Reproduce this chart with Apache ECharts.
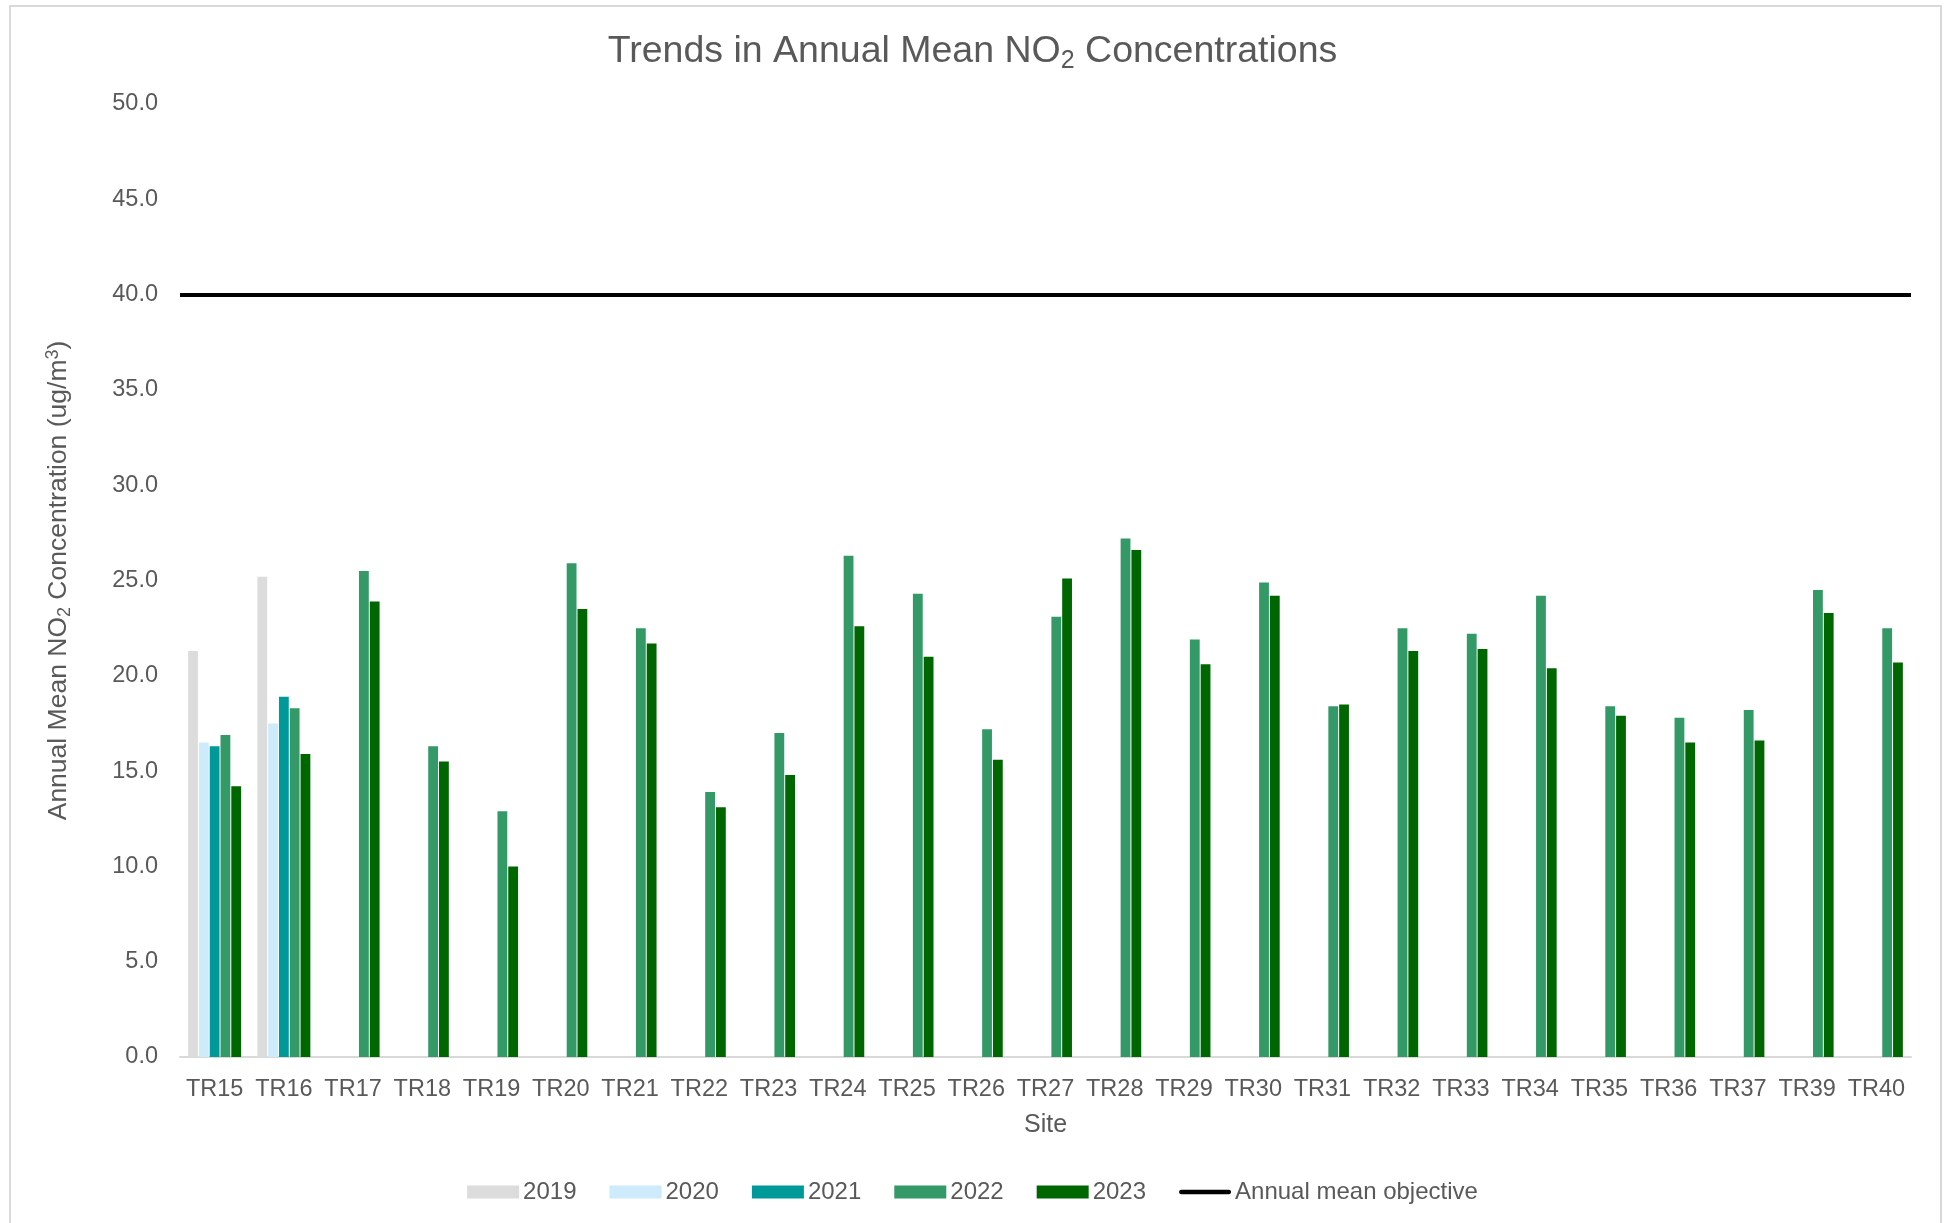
<!DOCTYPE html>
<html>
<head>
<meta charset="utf-8">
<script src="https://cdn.jsdelivr.net/npm/echarts@6/dist/echarts.min.js"></script>
<style>
  html, body { margin: 0; padding: 0; background: #ffffff; }
  #chart { width: 1945px; height: 1223px; }
</style>
</head>
<body>
<div id="chart"></div>
<script>
const sites = ['TR15','TR16','TR17','TR18','TR19','TR20','TR21','TR22','TR23','TR24','TR25','TR26','TR27','TR28','TR29','TR30','TR31','TR32','TR33','TR34','TR35','TR36','TR37','TR39','TR40'];
const y2019 = [21.3, 25.2, null, null, null, null, null, null, null, null, null, null, null, null, null, null, null, null, null, null, null, null, null, null, null];
const y2020 = [16.5, 17.5, null, null, null, null, null, null, null, null, null, null, null, null, null, null, null, null, null, null, null, null, null, null, null];
const y2021 = [16.3, 18.9, null, null, null, null, null, null, null, null, null, null, null, null, null, null, null, null, null, null, null, null, null, null, null];
const y2022 = [16.9, 18.3, 25.5, 16.3, 12.9, 25.9, 22.5, 13.9, 17.0, 26.3, 24.3, 17.2, 23.1, 27.2, 21.9, 24.9, 18.4, 22.5, 22.2, 24.2, 18.4, 17.8, 18.2, 24.5, 22.5];
const y2023 = [14.2, 15.9, 23.9, 15.5, 10.0, 23.5, 21.7, 13.1, 14.8, 22.6, 21.0, 15.6, 25.1, 26.6, 20.6, 24.2, 18.5, 21.3, 21.4, 20.4, 17.9, 16.5, 16.6, 23.3, 20.7];
const objective = 40;
const yTicks = { min: 0, max: 50, interval: 5 };

const FONT = '"Liberation Sans", Arial, sans-serif';
const TXT = '#595959';

const chart = echarts.init(document.getElementById('chart'), null, { renderer: 'canvas' });

function barSeries(name, data, color) {
  return {
    name: name,
    type: 'bar',
    data: data,
    barGap: '10%',
    barCategoryGap: '23.5%',
    itemStyle: { color: color },
    emphasis: { disabled: true }
  };
}

const lineIcon = 'path://M4.5,0 L95.5,0 A4.5,4.5 0 0 1 95.5,9 L4.5,9 A4.5,4.5 0 0 1 4.5,0 Z';

const option = {
  backgroundColor: '#ffffff',
  animation: false,
  textStyle: { fontFamily: FONT, color: TXT },
  graphic: [{
    type: 'rect',
    silent: true,
    shape: { x: 10, y: 6, width: 1931, height: 1240 },
    style: { fill: 'none', stroke: '#d9d9d9', lineWidth: 2 }
  }],
  title: {
    text: 'Trends in Annual Mean NO{sub|2} Concentrations',
    left: 'center',
    top: 24,
    textStyle: {
      fontFamily: FONT,
      fontSize: 37.5,
      fontWeight: 'normal',
      color: TXT,
      rich: {
        sub: { fontFamily: FONT, fontSize: 25, color: TXT, verticalAlign: 'bottom', padding: [20, 0, 0, 0] }
      }
    }
  },
  legend: {
    bottom: 14,
    left: 'center',
    itemWidth: 52,
    itemHeight: 13,
    itemGap: 33,
    symbolKeepAspect: true,
    textStyle: { fontFamily: FONT, fontSize: 24, color: TXT, padding: [0, 0, 0, -1] },
    data: [
      { name: '2019', icon: 'rect' },
      { name: '2020', icon: 'rect' },
      { name: '2021', icon: 'rect' },
      { name: '2022', icon: 'rect' },
      { name: '2023', icon: 'rect' },
      { name: 'Annual mean objective', icon: lineIcon, symbolKeepAspect: true, itemStyle: { color: '#000000' } }
    ]
  },
  grid: {
    left: 180,
    right: 34,
    top: 104,
    bottom: 166,
    containLabel: false
  },
  xAxis: {
    type: 'category',
    data: sites,
    name: 'Site',
    nameLocation: 'middle',
    nameGap: 56,
    nameTextStyle: { fontFamily: FONT, fontSize: 25, color: TXT },
    axisLine: { show: true, lineStyle: { color: '#d9d9d9', width: 2 } },
    axisTick: { show: false },
    axisLabel: { fontFamily: FONT, fontSize: 23.5, color: TXT, margin: 21, interval: 0 },
    splitLine: { show: false }
  },
  yAxis: {
    type: 'value',
    min: yTicks.min,
    max: yTicks.max,
    interval: yTicks.interval,
    name: 'Annual Mean NO{sub|2} Concentration (ug/m{sup|3})',
    nameLocation: 'middle',
    nameRotate: 90,
    nameGap: 106,
    nameTextStyle: {
      fontFamily: FONT,
      fontSize: 26.5,
      color: TXT,
      rich: {
        sub: { fontFamily: FONT, fontSize: 18, color: TXT, verticalAlign: 'bottom', padding: [12, 0, 0, 0] },
        sup: { fontFamily: FONT, fontSize: 18, color: TXT, verticalAlign: 'top', padding: [0, 0, 12, 0] }
      }
    },
    axisLine: { show: false },
    axisTick: { show: false },
    splitLine: { show: false },
    axisLabel: {
      fontFamily: FONT, fontSize: 23.5, color: TXT, margin: 22,
      formatter: function (v) { return v.toFixed(1); }
    }
  },
  series: [
    barSeries('2019', y2019, '#dcdcdc'),
    barSeries('2020', y2020, '#cdebfb'),
    barSeries('2021', y2021, '#009999'),
    barSeries('2022', y2022, '#339966'),
    barSeries('2023', y2023, '#006600'),
    {
      name: 'Annual mean objective',
      type: 'line',
      data: [],
      symbol: 'none',
      itemStyle: { color: '#000000' },
      lineStyle: { color: '#000000', width: 4 },
      markLine: {
        silent: true,
        symbol: ['none', 'none'],
        label: { show: false },
        lineStyle: { color: '#000000', width: 4, type: 'solid' },
        data: [{ yAxis: objective }]
      }
    }
  ]
};

chart.setOption(option);
</script>
</body>
</html>
